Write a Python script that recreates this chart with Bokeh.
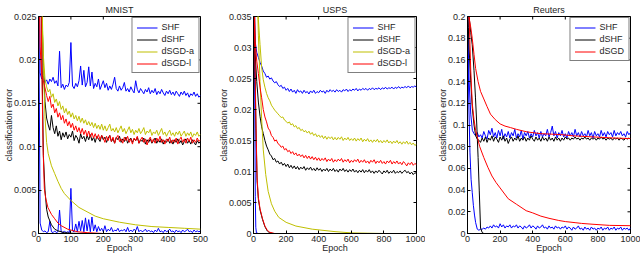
import math
from bokeh.plotting import figure
from bokeh.layouts import row
from bokeh.models import Range1d, FixedTicker, Legend, LegendItem
from bokeh.embed import file_html
from bokeh.resources import INLINE

# ---------------- MNIST ----------------
mnist_ep = list(range(0, 501, 5))
mnist_shf_test = [0.040, 0.0185, 0.0178, 0.0181, 0.0174, 0.0177, 0.0172, 0.0178, 0.0175, 0.0180,
                  0.0173, 0.0176, 0.0170, 0.0210, 0.0168, 0.0172, 0.0166, 0.0171, 0.0169, 0.0174,
                  0.0220, 0.0170, 0.0167, 0.0173, 0.0169, 0.0176, 0.0193, 0.0171, 0.0188, 0.0169,
                  0.0174, 0.0192, 0.0170, 0.0186, 0.0167, 0.0173, 0.0169, 0.0178, 0.0166, 0.0171,
                  0.0176, 0.0168, 0.0173, 0.0165, 0.0170, 0.0166, 0.0172, 0.0180, 0.0167, 0.0164,
                  0.0170, 0.0165, 0.0168, 0.0174, 0.0164, 0.0167, 0.0163, 0.0169, 0.0165, 0.0162,
                  0.0176, 0.0166, 0.0162, 0.0167, 0.0164, 0.0161, 0.0166, 0.0163, 0.0168, 0.0161,
                  0.0165, 0.0162, 0.0167, 0.0160, 0.0164, 0.0161, 0.0166, 0.0162, 0.0159, 0.0164,
                  0.0161, 0.0165, 0.0160, 0.0163, 0.0159, 0.0164, 0.0161, 0.0158, 0.0163, 0.0160,
                  0.0164, 0.0159, 0.0162, 0.0157, 0.0161, 0.0159, 0.0163, 0.0158, 0.0161, 0.0157,
                  0.0159]
mnist_dshf_test = [0.045, 0.034, 0.026, 0.0195, 0.0152, 0.0133, 0.0125, 0.0119, 0.0136, 0.0122,
                   0.0115, 0.0124, 0.0112, 0.0118, 0.0108, 0.0116, 0.0111, 0.0117, 0.0109, 0.0114,
                   0.0111, 0.0118, 0.0107, 0.0113, 0.0110, 0.0104, 0.0115, 0.0109, 0.0112, 0.0106,
                   0.0113, 0.0108, 0.0114, 0.0107, 0.0111, 0.0105, 0.0112, 0.0109, 0.0106, 0.0113,
                   0.0108, 0.0111, 0.0105, 0.0110, 0.0113, 0.0106, 0.0109, 0.0104, 0.0111, 0.0108,
                   0.0112, 0.0105, 0.0109, 0.0106, 0.0111, 0.0104, 0.0108, 0.0110, 0.0105, 0.0109,
                   0.0107, 0.0111, 0.0104, 0.0108, 0.0106, 0.0110, 0.0103, 0.0108, 0.0105, 0.0109,
                   0.0104, 0.0107, 0.0110, 0.0104, 0.0108, 0.0105, 0.0109, 0.0103, 0.0107, 0.0105,
                   0.0109, 0.0104, 0.0107, 0.0103, 0.0108, 0.0105, 0.0109, 0.0104, 0.0107, 0.0102,
                   0.0106, 0.0109, 0.0104, 0.0107, 0.0103, 0.0108, 0.0105, 0.0102, 0.0107, 0.0104,
                   0.0106]
mnist_dsgda_test = [0.050, 0.035, 0.026, 0.0205, 0.0178, 0.0169, 0.0163, 0.0166, 0.0157, 0.0161,
                    0.0151, 0.0155, 0.0147, 0.0152, 0.0143, 0.0147, 0.0139, 0.0144, 0.0137, 0.0141,
                    0.0134, 0.0139, 0.0132, 0.0136, 0.0130, 0.0135, 0.0128, 0.0133, 0.0127, 0.0131,
                    0.0125, 0.0129, 0.0124, 0.0128, 0.0122, 0.0127, 0.0121, 0.0125, 0.0120, 0.0126,
                    0.0119, 0.0124, 0.0118, 0.0122, 0.0126, 0.0118, 0.0121, 0.0117, 0.0122, 0.0116,
                    0.0120, 0.0124, 0.0117, 0.0121, 0.0115, 0.0119, 0.0123, 0.0116, 0.0120, 0.0114,
                    0.0119, 0.0116, 0.0121, 0.0115, 0.0118, 0.0122, 0.0114, 0.0118, 0.0116, 0.0120,
                    0.0113, 0.0117, 0.0115, 0.0119, 0.0113, 0.0117, 0.0121, 0.0114, 0.0117, 0.0112,
                    0.0116, 0.0119, 0.0113, 0.0116, 0.0112, 0.0117, 0.0114, 0.0118, 0.0112, 0.0115,
                    0.0118, 0.0112, 0.0116, 0.0113, 0.0117, 0.0111, 0.0115, 0.0113, 0.0117, 0.0112,
                    0.0114]
mnist_dsgdl_test = [0.032, 0.0215, 0.0183, 0.0176, 0.0168, 0.0159, 0.0152, 0.0158, 0.0145, 0.0149,
                    0.0139, 0.0144, 0.0134, 0.0139, 0.0131, 0.0136, 0.0127, 0.0132, 0.0124, 0.0129,
                    0.0122, 0.0127, 0.0119, 0.0124, 0.0117, 0.0122, 0.0115, 0.0121, 0.0114, 0.0119,
                    0.0112, 0.0118, 0.0111, 0.0116, 0.0110, 0.0115, 0.0109, 0.0114, 0.0108, 0.0113,
                    0.0110, 0.0105, 0.0112, 0.0107, 0.0113, 0.0106, 0.0111, 0.0104, 0.0110, 0.0113,
                    0.0106, 0.0109, 0.0104, 0.0111, 0.0107, 0.0112, 0.0105, 0.0109, 0.0103, 0.0110,
                    0.0107, 0.0112, 0.0104, 0.0108, 0.0111, 0.0105, 0.0109, 0.0102, 0.0108, 0.0111,
                    0.0105, 0.0109, 0.0104, 0.0110, 0.0106, 0.0112, 0.0105, 0.0108, 0.0103, 0.0109,
                    0.0106, 0.0111, 0.0104, 0.0108, 0.0105, 0.0110, 0.0103, 0.0108, 0.0111, 0.0105,
                    0.0109, 0.0104, 0.0110, 0.0106, 0.0111, 0.0104, 0.0108, 0.0105, 0.0110, 0.0106,
                    0.0108]
mnist_shf_train = [0.030, 0.0012, 0.0004, 0.0002, 0.0003, 0.0001, 0.0002, 0.0014, 0.0002, 0.0001,
                   0.0003, 0.0001, 0.0002, 0.0027, 0.0002, 0.0001, 0.0003, 0.0001, 0.0002, 0.0001,
                   0.0052, 0.0003, 0.0002, 0.0011, 0.0002, 0.0014, 0.0003, 0.0015, 0.0002, 0.0018,
                   0.0003, 0.0016, 0.0002, 0.0019, 0.0003, 0.0010, 0.0002, 0.0008, 0.0003, 0.0006,
                   0.0002, 0.0009, 0.0002, 0.0005, 0.0003, 0.0007, 0.0002, 0.0004, 0.0003, 0.0006,
                   0.0002, 0.0004, 0.0003, 0.0005, 0.0002, 0.0007, 0.0002, 0.0004, 0.0002, 0.0005,
                   0.0003, 0.0008, 0.0002, 0.0004, 0.0002, 0.0003, 0.0005, 0.0002, 0.0004, 0.0002,
                   0.0003, 0.0001, 0.0004, 0.0002, 0.0006, 0.0002, 0.0003, 0.0001, 0.0004, 0.0002,
                   0.0003, 0.0005, 0.0002, 0.0003, 0.0001, 0.0004, 0.0002, 0.0003, 0.0001, 0.0004,
                   0.0002, 0.0003, 0.0005, 0.0002, 0.0003, 0.0001, 0.0004, 0.0002, 0.0003, 0.0002,
                   0.0003]
mnist_dshf_train_ep = [0, 5, 10, 15, 20, 25, 30, 40, 50, 60, 80, 100, 150, 500]
mnist_dshf_train = [0.060, 0.040, 0.022, 0.009, 0.005, 0.0028, 0.0019, 0.0010, 0.0005, 0.0003,
                    0.0001, 0.00003, 0.0, 0.0]
mnist_dsgdl_train_ep = [0, 5, 10, 14, 18, 22, 29, 40, 50, 60, 70, 90, 100, 120, 150, 200, 500]
mnist_dsgdl_train = [0.050, 0.035, 0.020, 0.010, 0.0052, 0.0041, 0.0030, 0.0022, 0.0017, 0.0012,
                     0.0009, 0.0005, 0.0004, 0.0002, 0.0001, 0.0, 0.0]
mnist_dsgda_train_ep = [0, 5, 10, 12, 15, 20, 25, 30, 40, 50, 60, 70, 80, 90, 100, 125, 150, 175,
                        200, 250, 300, 350, 400, 450, 500]
mnist_dsgda_train = [0.060, 0.045, 0.030, 0.025, 0.0195, 0.0135, 0.0105, 0.0092, 0.0078, 0.0069,
                     0.0060, 0.0052, 0.0046, 0.0042, 0.0038, 0.0030, 0.0025, 0.0020, 0.0017, 0.0013,
                     0.0010, 0.0008, 0.0007, 0.0006, 0.0005]

# ---------------- USPS ----------------
usps_ep = list(range(0, 1001, 10))
usps_shf_test = [0.045, 0.031, 0.0292, 0.0284, 0.0276, 0.0270, 0.0262, 0.0258, 0.0252, 0.0254,
                 0.0249, 0.0251, 0.0246, 0.0243, 0.0245, 0.0240, 0.0237, 0.0239, 0.0234, 0.0236,
                 0.0231, 0.0234, 0.0229, 0.0233, 0.0228, 0.0231, 0.0226, 0.0232, 0.0228, 0.0230,
                 0.0226, 0.0231, 0.0227, 0.0229, 0.0225, 0.0230, 0.0227, 0.0231, 0.0226, 0.0229,
                 0.0227, 0.0231, 0.0228, 0.0230, 0.0226, 0.0231, 0.0228, 0.0232, 0.0229, 0.0231,
                 0.0228, 0.0232, 0.0229, 0.0231, 0.0228, 0.0232, 0.0230, 0.0233, 0.0229, 0.0232,
                 0.0230, 0.0233, 0.0231, 0.0234, 0.0230, 0.0233, 0.0231, 0.0234, 0.0232, 0.0234,
                 0.0231, 0.0234, 0.0232, 0.0235, 0.0232, 0.0234, 0.0233, 0.0235, 0.0232, 0.0235,
                 0.0233, 0.0236, 0.0233, 0.0235, 0.0234, 0.0236, 0.0233, 0.0236, 0.0234, 0.0237,
                 0.0234, 0.0236, 0.0235, 0.0237, 0.0235, 0.0238, 0.0235, 0.0237, 0.0236, 0.0238,
                 0.0236]
usps_dshf_test = [0.045, 0.029, 0.0245, 0.0212, 0.0189, 0.0172, 0.0161, 0.0150, 0.0141, 0.0135,
                  0.0128, 0.0125, 0.0119, 0.0121, 0.0115, 0.0117, 0.0112, 0.0115, 0.0110, 0.0113,
                  0.0108, 0.0112, 0.0106, 0.0110, 0.0105, 0.0109, 0.0104, 0.0108, 0.0103, 0.0107,
                  0.0104, 0.0108, 0.0102, 0.0106, 0.0103, 0.0107, 0.0102, 0.0105, 0.0101, 0.0106,
                  0.0102, 0.0105, 0.0100, 0.0104, 0.0101, 0.0105, 0.0100, 0.0104, 0.0101, 0.0105,
                  0.0100, 0.0103, 0.0099, 0.0104, 0.0101, 0.0105, 0.0100, 0.0103, 0.0099, 0.0103,
                  0.0100, 0.0104, 0.0099, 0.0102, 0.0098, 0.0102, 0.0099, 0.0103, 0.0098, 0.0102,
                  0.0099, 0.0103, 0.0098, 0.0101, 0.0097, 0.0101, 0.0098, 0.0102, 0.0099, 0.0096,
                  0.0101, 0.0098, 0.0102, 0.0097, 0.0100, 0.0098, 0.0102, 0.0097, 0.0100, 0.0098,
                  0.0101, 0.0097, 0.0100, 0.0102, 0.0098, 0.0100, 0.0096, 0.0099, 0.0095, 0.0098,
                  0.0097]
usps_dsgda_test = [0.060, 0.050, 0.041, 0.0345, 0.0305, 0.0268, 0.0248, 0.0236, 0.0226, 0.0219,
                   0.0214, 0.0207, 0.0203, 0.0199, 0.0196, 0.0193, 0.0190, 0.0187, 0.0188, 0.0183,
                   0.0181, 0.0178, 0.0180, 0.0175, 0.0177, 0.0172, 0.0174, 0.0169, 0.0171, 0.0166,
                   0.0168, 0.0164, 0.0166, 0.0162, 0.0165, 0.0160, 0.0163, 0.0158, 0.0161, 0.0156,
                   0.0159, 0.0155, 0.0158, 0.0153, 0.0157, 0.0152, 0.0156, 0.0153, 0.0156, 0.0151,
                   0.0155, 0.0151, 0.0155, 0.0152, 0.0156, 0.0150, 0.0154, 0.0151, 0.0155, 0.0150,
                   0.0153, 0.0150, 0.0154, 0.0149, 0.0153, 0.0150, 0.0154, 0.0148, 0.0152, 0.0149,
                   0.0153, 0.0148, 0.0151, 0.0147, 0.0151, 0.0148, 0.0152, 0.0147, 0.0150, 0.0146,
                   0.0150, 0.0147, 0.0151, 0.0146, 0.0149, 0.0145, 0.0149, 0.0146, 0.0150, 0.0145,
                   0.0148, 0.0144, 0.0148, 0.0145, 0.0149, 0.0144, 0.0147, 0.0143, 0.0146, 0.0142,
                   0.0144]
usps_dsgdl_test = [0.045, 0.031, 0.0278, 0.0258, 0.0236, 0.0219, 0.0200, 0.0188, 0.0180, 0.0170,
                   0.0166, 0.0158, 0.0155, 0.0149, 0.0151, 0.0145, 0.0143, 0.0139, 0.0141, 0.0135,
                   0.0137, 0.0132, 0.0134, 0.0129, 0.0132, 0.0127, 0.0130, 0.0125, 0.0128, 0.0124,
                   0.0127, 0.0122, 0.0126, 0.0121, 0.0125, 0.0120, 0.0124, 0.0119, 0.0123, 0.0118,
                   0.0122, 0.0117, 0.0121, 0.0118, 0.0122, 0.0116, 0.0120, 0.0117, 0.0121, 0.0115,
                   0.0119, 0.0116, 0.0120, 0.0117, 0.0121, 0.0115, 0.0119, 0.0116, 0.0120, 0.0114,
                   0.0118, 0.0115, 0.0119, 0.0116, 0.0120, 0.0114, 0.0118, 0.0115, 0.0119, 0.0114,
                   0.0117, 0.0113, 0.0118, 0.0115, 0.0119, 0.0113, 0.0117, 0.0114, 0.0118, 0.0113,
                   0.0116, 0.0112, 0.0117, 0.0114, 0.0118, 0.0112, 0.0116, 0.0113, 0.0117, 0.0112,
                   0.0115, 0.0111, 0.0116, 0.0113, 0.0109, 0.0114, 0.0111, 0.0115, 0.0110, 0.0113,
                   0.0111]
usps_shf_train_ep = [0, 5, 8, 11, 14, 18, 30, 1000]
usps_shf_train = [0.050, 0.035, 0.020, 0.006, 0.001, 0.0001, 0.0, 0.0]
usps_dshf_train_ep = [0, 5, 10, 15, 22, 30, 40, 55, 70, 85, 100, 120, 1000]
usps_dshf_train = [0.060, 0.035, 0.025, 0.017, 0.0085, 0.0055, 0.0038, 0.0023, 0.0011, 0.0004,
                   0.0001, 0.0, 0.0]
usps_dsgdl_train_ep = [0, 5, 10, 15, 22, 30, 40, 55, 70, 85, 100, 130, 1000]
usps_dsgdl_train = [0.060, 0.036, 0.026, 0.018, 0.009, 0.0058, 0.0040, 0.0024, 0.0012, 0.0005,
                    0.0002, 0.0, 0.0]
usps_dsgda_train_ep = [0, 10, 20, 30, 40, 50, 60, 75, 90, 110, 130, 155, 200, 260, 360, 500, 600,
                       700, 800, 1000]
usps_dsgda_train = [0.080, 0.060, 0.042, 0.032, 0.0245, 0.0185, 0.0135, 0.0095, 0.0068, 0.0048,
                    0.0036, 0.0026, 0.0018, 0.0012, 0.0007, 0.0003, 0.0001, 0.00005, 0.0, 0.0]

# ---------------- Reuters ----------------
reut_shf_test_ep = [0, 5, 10, 20, 30] + list(range(40, 1001, 10))
reut_shf_test = [0.21, 0.17, 0.14, 0.11, 0.095,
                 0.092, 0.090, 0.093, 0.089, 0.091, 0.088, 0.094, 0.090, 0.087, 0.095,
                 0.091, 0.097, 0.089, 0.093, 0.088, 0.095, 0.090, 0.096, 0.087, 0.092,
                 0.089, 0.094, 0.088, 0.093, 0.090, 0.096, 0.088, 0.092, 0.089, 0.095,
                 0.087, 0.093, 0.090, 0.094, 0.088, 0.092, 0.089, 0.095, 0.090, 0.093,
                 0.088, 0.094, 0.089, 0.092, 0.090, 0.096, 0.089, 0.093, 0.099, 0.090,
                 0.094, 0.088, 0.093, 0.090, 0.095, 0.089, 0.092, 0.088, 0.094, 0.090,
                 0.093, 0.089, 0.096, 0.090, 0.093, 0.089, 0.094, 0.090, 0.092, 0.089,
                 0.095, 0.090, 0.093, 0.088, 0.094, 0.090, 0.092, 0.089, 0.095, 0.090,
                 0.093, 0.089, 0.094, 0.091, 0.093, 0.089, 0.095, 0.090, 0.093, 0.091,
                 0.094, 0.090, 0.092, 0.089, 0.094, 0.091, 0.093]
reut_dshf_test_ep = [0, 5, 10, 20, 30, 40, 50] + list(range(60, 1001, 10))
reut_dshf_test = [0.22, 0.19, 0.17, 0.14, 0.115, 0.100, 0.090,
                  0.087, 0.086, 0.084, 0.088, 0.085, 0.089, 0.084, 0.088, 0.086, 0.090,
                  0.085, 0.089, 0.087, 0.084, 0.089, 0.086, 0.090, 0.085, 0.088, 0.083,
                  0.087, 0.089, 0.085, 0.088, 0.086, 0.090, 0.085, 0.088, 0.086, 0.089,
                  0.085, 0.088, 0.086, 0.090, 0.087, 0.085, 0.089, 0.086, 0.088, 0.085,
                  0.089, 0.086, 0.088, 0.085, 0.089, 0.086, 0.088, 0.085, 0.089, 0.086,
                  0.088, 0.085, 0.088, 0.086, 0.089, 0.087, 0.088, 0.086, 0.088, 0.087,
                  0.089, 0.087, 0.088, 0.086, 0.088, 0.087, 0.089, 0.087, 0.088, 0.086,
                  0.088, 0.087, 0.088, 0.086, 0.088, 0.087, 0.089, 0.087, 0.088, 0.086,
                  0.088, 0.087, 0.088, 0.086, 0.088, 0.087, 0.088, 0.086, 0.088, 0.087,
                  0.086, 0.088, 0.087, 0.088, 0.087]
reut_dsgd_test_ep = [0, 8, 20, 29, 40, 50, 65, 80, 100, 120, 141, 170, 200, 230, 264, 300, 366,
                     450, 570, 650, 774, 900, 1000]
reut_dsgd_test = [0.25, 0.20, 0.19, 0.18, 0.165, 0.152, 0.140, 0.131, 0.124, 0.117, 0.110, 0.105,
                  0.101, 0.099, 0.0976, 0.096, 0.0936, 0.092, 0.0912, 0.090, 0.089, 0.088, 0.0875]
reut_shf_train_ep = [0, 8, 15, 22, 29, 36, 43, 50, 60, 70, 80] + list(range(90, 1001, 10))
reut_shf_train = [0.21, 0.12, 0.075, 0.050, 0.038, 0.026, 0.017, 0.010, 0.004, 0.003, 0.004,
                  0.004, 0.005, 0.004, 0.006, 0.005, 0.007, 0.005, 0.008, 0.006, 0.007,
                  0.005, 0.009, 0.006, 0.008, 0.005, 0.007, 0.006, 0.008, 0.005, 0.007,
                  0.006, 0.008, 0.005, 0.007, 0.006, 0.004, 0.007, 0.005, 0.006, 0.008,
                  0.005, 0.007, 0.006, 0.004, 0.007, 0.005, 0.006, 0.008, 0.005, 0.006,
                  0.004, 0.007, 0.005, 0.006, 0.004, 0.007, 0.005, 0.006, 0.004, 0.006,
                  0.005, 0.007, 0.004, 0.006, 0.005, 0.003, 0.006, 0.004, 0.005, 0.007,
                  0.004, 0.005, 0.003, 0.006, 0.004, 0.005, 0.003, 0.006, 0.004, 0.005,
                  0.003, 0.005, 0.004, 0.006, 0.003, 0.005, 0.004, 0.006, 0.003, 0.005,
                  0.004, 0.006, 0.003, 0.005, 0.004, 0.006, 0.003, 0.005, 0.004, 0.005,
                  0.003, 0.005]
reut_dshf_train_ep = [0, 10, 20, 29, 40, 49, 57, 65, 72, 80, 90, 100, 1000]
reut_dshf_train = [0.22, 0.20, 0.185, 0.174, 0.150, 0.125, 0.100, 0.070, 0.040, 0.005, 0.001,
                   0.0, 0.0]
reut_dsgd_train_ep = [0, 10, 20, 29, 40, 50, 75, 100, 125, 150, 175, 200, 250, 300, 360, 400,
                      450, 500, 560, 600, 660, 700, 770, 870, 1000]
reut_dsgd_train = [0.25, 0.20, 0.15, 0.12, 0.105, 0.095, 0.080, 0.070, 0.061, 0.053, 0.047,
                   0.042, 0.032, 0.027, 0.021, 0.019, 0.016, 0.014, 0.012, 0.011, 0.010,
                   0.0093, 0.0085, 0.0075, 0.0072]

# ---------------- ticks / labels ----------------
mnist_xticks = [0, 100, 200, 300, 400, 500]
usps_xticks = [0, 200, 400, 600, 800, 1000]
reut_xticks = [0, 200, 400, 600, 800, 1000]
mnist_yticks = [0, 0.005, 0.01, 0.015, 0.02, 0.025]
mnist_ylabels = ["0", "0.005", "0.01", "0.015", "0.02", "0.025"]
usps_yticks = [0, 0.005, 0.01, 0.015, 0.02, 0.025, 0.03, 0.035]
usps_ylabels = ["0", "0.005", "0.01", "0.015", "0.02", "0.025", "0.03", "0.035"]
reut_yticks = [0, 0.02, 0.04, 0.06, 0.08, 0.1, 0.12, 0.14, 0.16, 0.18, 0.2]
reut_ylabels = ["0", "0.02", "0.04", "0.06", "0.08", "0.1", "0.12", "0.14", "0.16", "0.18", "0.2"]

BLUE, BLACK, YELLOW, RED = "#0000ff", "#000000", "#bfbf00", "#ff0000"
FONT = "Liberation Sans"
TXT = "#262626"


def make_panel(title, xr, yr, xticks, yticks, ylabels, width, left, right):
    p = figure(width=width, height=255, x_range=Range1d(*xr), y_range=Range1d(*yr),
               output_backend="svg", toolbar_location=None, title=title,
               min_border_left=left, min_border_right=right, min_border_top=15,
               min_border_bottom=22, x_axis_label="Epoch", y_axis_label="classification error")
    p.title.align = "center"
    p.title.text_font = FONT
    p.title.text_font_size = "9px"
    p.title.text_font_style = "normal"
    p.title.text_color = TXT
    p.title.standoff = 4
    p.grid.visible = False
    p.outline_line_color = "#000000"
    p.outline_line_width = 1
    p.background_fill_color = "white"
    p.border_fill_color = "white"
    for ax in (p.xaxis[0], p.yaxis[0]):
        ax.major_label_text_font = FONT
        ax.major_label_text_font_size = "9px"
        ax.major_label_text_color = TXT
        ax.axis_label_text_font = FONT
        ax.axis_label_text_font_size = "9px"
        ax.axis_label_text_font_style = "normal"
        ax.axis_label_text_color = TXT
        ax.major_tick_in = 3
        ax.major_tick_out = 0
        ax.minor_tick_line_color = None
        ax.axis_line_color = "#000000"
        ax.major_tick_line_color = "#000000"
        ax.major_label_standoff = 2
    p.xaxis[0].ticker = FixedTicker(ticks=xticks)
    p.yaxis[0].ticker = FixedTicker(ticks=yticks)
    p.yaxis[0].major_label_overrides = {t: l for t, l in zip(yticks, ylabels)}
    p.xaxis[0].axis_label_standoff = -2
    p.yaxis[0].axis_label_standoff = -3
    # mirrored inward ticks on the top and right edges (Matlab box)
    p.scatter(xticks, [yr[1]] * len(xticks), marker="dash", angle=math.pi / 2, size=6,
              line_color="#000000", line_width=1)
    p.scatter([xr[1]] * len(yticks), yticks, marker="dash", size=6,
              line_color="#000000", line_width=1)
    return p


def add_legend(p, items):
    leg = Legend(items=[LegendItem(label=l, renderers=[r]) for l, r in items],
                 location="top_right", label_text_font=FONT, label_text_font_size="9px",
                 label_text_color=TXT, glyph_width=21, glyph_height=9, label_height=9,
                 spacing=2, padding=4, margin=1, label_standoff=4,
                 border_line_color="#000000", border_line_width=1,
                 background_fill_color="white", background_fill_alpha=1)
    p.add_layout(leg, "center")


# ---- MNIST panel ----
p1 = make_panel("MNIST", (0, 500), (0, 0.025), mnist_xticks, mnist_yticks, mnist_ylabels,
                215, 37, 15)
r_b = p1.line(mnist_ep, mnist_shf_test, color=BLUE, line_width=1)
p1.line(mnist_ep, mnist_shf_train, color=BLUE, line_width=1)
r_k = p1.line(mnist_ep, mnist_dshf_test, color=BLACK, line_width=1)
p1.line(mnist_dshf_train_ep, mnist_dshf_train, color=BLACK, line_width=1)
r_y = p1.line(mnist_ep, mnist_dsgda_test, color=YELLOW, line_width=1)
p1.line(mnist_dsgda_train_ep, mnist_dsgda_train, color=YELLOW, line_width=1)
r_r = p1.line(mnist_ep, mnist_dsgdl_test, color=RED, line_width=1)
p1.line(mnist_dsgdl_train_ep, mnist_dsgdl_train, color=RED, line_width=1)
add_legend(p1, [("SHF", r_b), ("dSHF", r_k), ("dSGD-a", r_y), ("dSGD-l", r_r)])

# ---- USPS panel ----
p2 = make_panel("USPS", (0, 1000), (0, 0.035), usps_xticks, usps_yticks, usps_ylabels,
                210, 38, 9)
r_b = p2.line(usps_ep, usps_shf_test, color=BLUE, line_width=1)
p2.line(usps_shf_train_ep, usps_shf_train, color=BLUE, line_width=1)
r_k = p2.line(usps_ep, usps_dshf_test, color=BLACK, line_width=1)
p2.line(usps_dshf_train_ep, usps_dshf_train, color=BLACK, line_width=1)
r_y = p2.line(usps_ep, usps_dsgda_test, color=YELLOW, line_width=1)
p2.line(usps_dsgda_train_ep, usps_dsgda_train, color=YELLOW, line_width=1)
r_r = p2.line(usps_ep, usps_dsgdl_test, color=RED, line_width=1)
p2.line(usps_dsgdl_train_ep, usps_dsgdl_train, color=RED, line_width=1)
add_legend(p2, [("SHF", r_b), ("dSHF", r_k), ("dSGD-a", r_y), ("dSGD-l", r_r)])

# ---- Reuters panel ----
p3 = make_panel("Reuters", (0, 1000), (0, 0.2), reut_xticks, reut_yticks, reut_ylabels,
                215, 42, 10)
r_b = p3.line(reut_shf_test_ep, reut_shf_test, color=BLUE, line_width=1)
p3.line(reut_shf_train_ep, reut_shf_train, color=BLUE, line_width=1)
r_k = p3.line(reut_dshf_test_ep, reut_dshf_test, color=BLACK, line_width=1)
p3.line(reut_dshf_train_ep, reut_dshf_train, color=BLACK, line_width=1)
r_r = p3.line(reut_dsgd_test_ep, reut_dsgd_test, color=RED, line_width=1)
p3.line(reut_dsgd_train_ep, reut_dsgd_train, color=RED, line_width=1)
add_legend(p3, [("SHF", r_b), ("dSHF", r_k), ("dSGD", r_r)])

layout = row(p1, p2, p3)
open("out.html", "w").write(file_html(layout, INLINE))
